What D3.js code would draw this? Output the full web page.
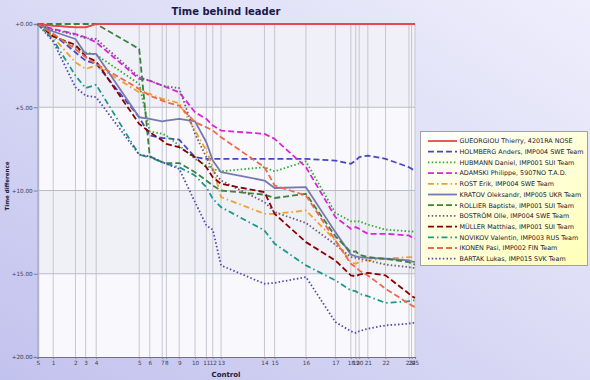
<!DOCTYPE html>
<html>
<head>
<meta charset="utf-8">
<script src="https://cdn.jsdelivr.net/npm/d3@7"></script>
<style>
html,body{margin:0;padding:0;background:#e0e0f6;}
svg{display:block;}
text{font-family:"DejaVu Sans",Verdana,sans-serif;}
</style>
</head>
<body>
<script>
// ---- data ----
const controls = ["S","1","2","3","4","5","6","7","8","9","10","11","12","13","14","15","16","17","18","19","20","21","22","23","24","25"];
// leader's cumulative time at each control (% of total)
const controlPos = [0,4.1,10.0,12.7,15.5,26.9,29.7,33.0,34.1,37.5,41.7,44.7,46.4,48.6,60.1,62.8,71.1,78.9,83.0,84.3,85.2,87.5,92.2,98.4,99.1,100];
const yTickValues = [0,5,10,15,20];
const yTickLabels = ["+0.00","+5.00","+10.00","+15.00","+20.00"];

const runners = [
  "GUEORGIOU Thierry, 4201RA NOSE",
  "HOLMBERG Anders, IMP004 SWE Team",
  "HUBMANN Daniel, IMP001 SUI Team",
  "ADAMSKI Philippe, 5907NO T.A.D.",
  "ROST Erik, IMP004 SWE Team",
  "KRATOV Oleksandr, IMP005 UKR Team",
  "ROLLIER Baptiste, IMP001 SUI Team",
  "BOSTRÖM Olle, IMP004 SWE Team",
  "MÜLLER Matthias, IMP001 SUI Team",
  "NOVIKOV Valentin, IMP003 RUS Team",
  "IKONEN Pasi, IMP002 FIN Team",
  "BARTAK Lukas, IMP015 SVK Team"
];

const gueorgiou = [0,0.1,0.2,0.2,0,0,0,0,0,0,0,0,0,0,0,0,0,0,0,0,0,0,0,0,0,0];
const holmberg  = [0,0.6,1.7,2.2,2.4,5.6,6.7,6.85,6.85,6.95,8.0,8.1,8.1,8.1,8.1,8.1,8.1,8.2,8.4,8.2,8.0,7.9,8.1,8.6,8.7,8.8];
const hubmann   = [0,0.7,1.4,1.7,1.85,3.6,6.45,6.6,6.7,7.3,8.1,8.5,8.7,8.85,8.6,8.85,8.25,11.35,11.85,11.85,11.85,12.05,12.35,12.45,12.45,12.5];
const adamski   = [0,0.3,0.6,0.8,1.1,3.3,3.4,3.7,3.8,4.1,5.3,5.7,6.1,6.4,6.6,6.9,8.6,11.6,12.3,12.2,12.3,12.6,12.6,12.7,12.8,12.9];
const rost      = [0,0.8,2.3,2.7,2.5,4.1,4.2,4.5,4.55,4.75,6.4,7.6,8.6,10.4,11.4,11.4,11.2,13.0,14.3,14.4,14.3,14.2,14.1,14.0,14.0,13.9];
const kratov    = [0,0.45,0.9,1.8,1.8,5.6,5.7,5.85,5.8,5.7,5.85,7.1,8.2,8.9,9.4,9.85,9.8,12.5,13.85,13.95,14.0,14.05,14.1,14.2,14.25,14.3];
const rollier   = [0,0,0,0,0,1.5,7.95,8.3,8.35,8.35,8.9,9.4,9.7,10.0,10.25,10.45,10.2,12.75,13.7,13.65,13.85,14.0,14.1,14.3,14.4,14.45];
const bostrom   = [0,0.35,0.65,0.85,0.9,3.2,3.4,3.7,3.75,3.85,6.6,8.0,8.8,9.4,10.7,11.3,11.95,13.25,14.0,14.05,14.1,14.2,14.45,14.6,14.65,14.65];
const muller    = [0,0.75,1.25,1.95,2.25,6.0,6.5,7.0,7.2,7.4,8.0,8.6,9.2,9.6,10.1,11.4,13.1,14.2,15.1,15.15,15.05,14.95,15.1,16.2,16.35,16.45];
const novikov   = [0,0.95,3.1,3.85,3.65,7.85,8.0,8.3,8.4,8.6,9.1,9.8,10.5,11.0,12.4,13.2,14.5,15.4,16.0,16.05,16.2,16.35,16.75,16.65,16.6,16.6];
const ikonen    = [0,0.6,1.5,2.0,2.4,3.9,4.3,4.6,4.7,4.9,5.9,6.2,6.4,6.8,8.6,9.7,10.3,13.0,14.4,14.6,14.8,15.1,15.9,16.8,16.9,17.0];
const bartak    = [0,1.05,3.8,4.3,4.4,7.85,7.95,8.3,8.4,8.7,10.7,12.1,12.35,14.5,15.6,15.55,15.2,17.9,18.45,18.55,18.45,18.3,18.1,18.0,17.95,17.95];

const seriesValues = [gueorgiou,holmberg,hubmann,adamski,rost,kratov,rollier,bostrom,muller,novikov,ikonen,bartak];
const colors = ["#e84848","#4646c8","#30aa30","#dd22dd","#f0a030","#7878b0","#3c823c","#705878","#8b0000","#189a88","#f06848","#5048b0"];
const dashes = ["none","6,3","1.5,2.2","6,3","6,3,1.5,3","none","6,3","1.5,2.2","6,3","6,3,1.5,3","6,3","1.5,2.2"];

// ---- layout ----
const W = 590, H = 380;
const pL = 37.7, pR = 415, pT = 24, pB = 357;

const svg = d3.select("body").append("svg").attr("width", W).attr("height", H);
const defs = svg.append("defs");
const bg = defs.append("linearGradient").attr("id","bg").attr("x1","0").attr("y1","1").attr("x2","1").attr("y2","0");
bg.append("stop").attr("offset","0").attr("stop-color","#c2c2ee");
bg.append("stop").attr("offset","0.55").attr("stop-color","#dcdcf6");
bg.append("stop").attr("offset","1").attr("stop-color","#eeeefc");
const lg = defs.append("linearGradient").attr("id","lg").attr("x1","0").attr("y1","0").attr("x2","1").attr("y2","1");
lg.append("stop").attr("offset","0").attr("stop-color","#ffffff");
lg.append("stop").attr("offset","1").attr("stop-color","#ffffb8");

svg.append("rect").attr("width",W).attr("height",H).attr("fill","url(#bg)");

const x = d3.scaleLinear().domain([0,100]).range([pL,pR]);
const y = d3.scaleLinear().domain([0,20]).range([pT,pB]);

// bands
const bandFill = ["#f0f0f8","#f9f9fd","#f0f0f7","#f9f9fd"];
for (let i = 0; i < yTickValues.length-1; i++) {
  svg.append("rect").attr("x",pL).attr("y",y(yTickValues[i]))
    .attr("width",pR-pL).attr("height",y(yTickValues[i+1])-y(yTickValues[i]))
    .attr("fill",bandFill[i]);
}

// vertical gridlines
svg.append("g").selectAll("line").data(controlPos).join("line")
  .attr("x1",d=>x(d)).attr("x2",d=>x(d)).attr("y1",pT).attr("y2",pB)
  .attr("stroke","#c6c6d0").attr("stroke-width",1);
// horizontal gridlines
svg.append("g").selectAll("line").data(yTickValues.slice(1,-1)).join("line")
  .attr("x1",pL).attr("x2",pR).attr("y1",d=>y(d)).attr("y2",d=>y(d))
  .attr("stroke","#bcbcc6").attr("stroke-width",1);

// axes
const yAxis = d3.axisLeft(y).tickValues(yTickValues).tickFormat((d,i)=>yTickLabels[i]).tickSize(4).tickPadding(1);
const gy = svg.append("g").attr("transform",`translate(${pL},0)`).call(yAxis);
gy.select(".domain").attr("stroke","#b0b0d0").attr("stroke-width",2);
gy.selectAll(".tick line").attr("stroke","#808090");
gy.selectAll("text").attr("font-size","5.7px").attr("fill","#404050").attr("font-family","DejaVu Sans, sans-serif");

const xAxis = d3.axisBottom(x).tickValues(controlPos).tickFormat((d,i)=>controls[i]).tickSize(2).tickPadding(2);
const gx = svg.append("g").attr("transform",`translate(0,${pB})`).call(xAxis);
gx.select(".domain").attr("stroke","#707080").attr("stroke-width",1.2);
gx.selectAll(".tick line").attr("stroke","#808090");
gx.selectAll("text").attr("font-size","5.7px").attr("fill","#404050").attr("font-family","DejaVu Sans, sans-serif");

// lines
const line = d3.line().x((d,i)=>x(controlPos[i])).y(d=>y(d));
const gl = svg.append("g");
seriesValues.forEach((vals,k)=>{
  gl.append("path").attr("d",line(vals)).attr("fill","none")
    .attr("stroke",colors[k]).attr("stroke-width",1.8)
    .attr("stroke-dasharray",dashes[k]).attr("stroke-linejoin","round");
});
// leader line on top
gl.append("path").attr("d",line(seriesValues[0])).attr("fill","none")
  .attr("stroke",colors[0]).attr("stroke-width",1.5);

// titles
svg.append("text").attr("x",226).attr("y",15).attr("text-anchor","middle")
  .attr("font-size","10px").attr("font-weight","bold").attr("fill","#1a1a4a").text("Time behind leader");
svg.append("text").attr("x",226).attr("y",377).attr("text-anchor","middle")
  .attr("font-size","7px").attr("font-weight","bold").attr("fill","#1a1a3a").text("Control");
svg.append("text").attr("transform","translate(8.5,186) rotate(-90)").attr("text-anchor","middle")
  .attr("font-size","5.6px").attr("font-weight","bold").attr("fill","#1a1a3a").text("Time difference");

// legend
const lgx = 420.5, lgy = 131.5, lgw = 167, lgh = 134;
svg.append("rect").attr("x",lgx).attr("y",lgy).attr("width",lgw).attr("height",lgh)
  .attr("fill","url(#lg)").attr("stroke","#a0a0a8").attr("stroke-width",1);
const items = svg.append("g").selectAll("g").data(runners).join("g")
  .attr("transform",(d,i)=>`translate(0,${141 + i*10.7})`);
items.append("line").attr("x1",428).attr("x2",457).attr("y1",0).attr("y2",0)
  .attr("stroke",(d,i)=>colors[i]).attr("stroke-width",1.8)
  .attr("stroke-dasharray",(d,i)=>dashes[i]);
items.append("text").attr("x",459.5).attr("y",2.3).attr("font-size","6.4px")
  .attr("fill","#202030").text(d=>d);
</script>
</body>
</html>
